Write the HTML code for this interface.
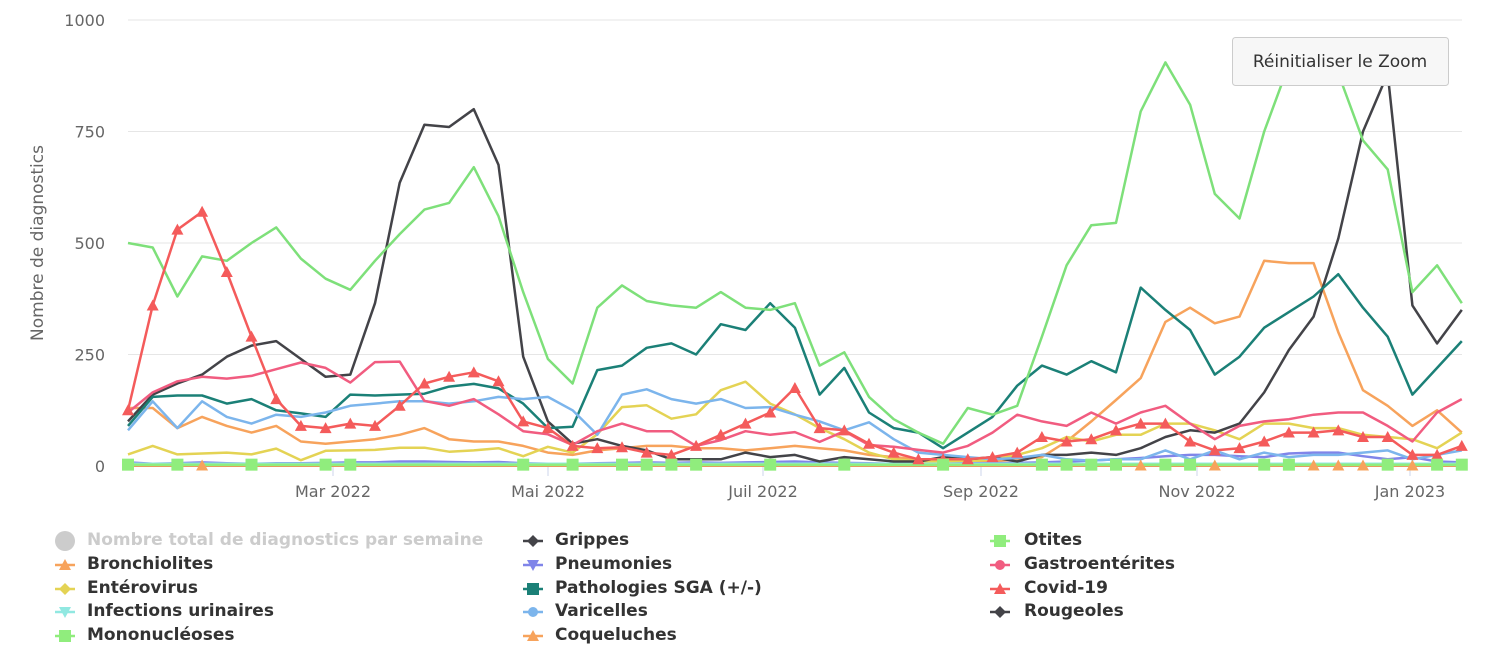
<!DOCTYPE html>
<html><head><meta charset="utf-8">
<style>
body{margin:0;background:#fff;width:1491px;height:667px;overflow:hidden;font-family:"DejaVu Sans",sans-serif}
svg{position:absolute;left:0;top:0}
.leg{position:absolute;font-weight:bold;font-size:17px;color:#333;white-space:nowrap;font-family:"DejaVu Sans",sans-serif}
</style></head><body>
<svg id="c" width="1491" height="667" xmlns="http://www.w3.org/2000/svg"></svg>
<script>
const S=document.getElementById('c');const ns='http://www.w3.org/2000/svg';
const FF='DejaVu Sans, sans-serif';
function el(t,a,txt){const e=document.createElementNS(ns,t);for(const k in a)e.setAttribute(k,a[k]);if(txt!==undefined)e.textContent=txt;S.appendChild(e);return e;}
const X=i=>128+24.7*i, Y=v=>466-v*0.446;
[0,250,500,750,1000].forEach(v=>{el('line',{x1:128,x2:1462,y1:Y(v),y2:Y(v),stroke:'#e6e6e6','stroke-width':1});
el('text',{x:105,y:Y(v)+6,'text-anchor':'end','font-size':16,fill:'#666','font-family':FF},v)});
el('text',{x:43,y:243,transform:'rotate(-90 43 243)','text-anchor':'middle','font-size':17,fill:'#666','font-family':FF},'Nombre de diagnostics');
el('line',{x1:128,x2:1462,y1:466.5,y2:466.5,stroke:'#ccd6eb'});
[[333,'Mar 2022'],[548,'Mai 2022'],[763,'Juil 2022'],[981,'Sep 2022'],[1197,'Nov 2022'],[1410,'Jan 2023']].forEach(([x,t])=>{
el('line',{x1:x,x2:x,y1:466,y2:476,stroke:'#ccd6eb'});el('text',{x:x,y:497,'text-anchor':'middle','font-size':16,fill:'#666','font-family':FF},t)});
const z=n=>Array(55).fill(n);
const series=[
['#f7a35c',[130,130,85,110,90,75,90,55,50,55,60,70,85,60,55,55,45,30,25,35,40,45,45,40,40,35,40,45,40,35,25,20,15,10,10,10,15,20,55,100,148,197,323,355,320,335,460,455,455,300,170,135,90,125,75]],
['#e4d354',[26,45,26,28,30,26,39,13,34,35,36,41,41,32,35,40,22,43,30,71,132,136,106,116,170,189,140,116,85,60,30,15,10,10,10,15,25,40,65,55,70,70,95,95,80,60,95,95,85,85,70,65,60,40,75]],
['#8085e9',[8,5,6,8,6,5,6,6,7,8,8,10,10,9,8,9,6,5,5,6,7,8,7,8,7,8,9,10,8,7,6,5,5,5,6,6,7,8,10,12,15,18,22,25,25,22,20,28,30,30,22,15,20,10,8]],
['#91e8e1',z(5)],
['#434348',[100,160,185,205,245,270,280,240,200,205,365,635,765,760,800,675,245,100,50,60,45,35,15,15,15,30,20,25,10,20,15,10,10,20,15,20,10,25,25,30,25,40,65,80,75,95,165,260,335,510,750,880,360,275,350]],
['#1b8077',[90,155,158,158,140,150,125,118,110,160,158,160,162,178,184,174,140,85,88,215,225,265,275,250,318,305,365,310,160,220,120,85,75,40,75,110,180,225,205,235,210,400,350,305,205,245,310,345,380,430,355,290,160,220,280]],
['#7cb5ec',[80,145,85,145,110,95,115,110,120,135,140,145,145,140,145,155,150,155,125,70,160,172,150,140,150,130,132,115,100,80,98,60,30,25,20,15,18,25,15,12,15,15,35,15,35,15,30,20,25,25,30,35,15,25,35]],
['#f15c80',[120,165,190,200,196,202,217,232,220,187,233,234,146,135,150,116,78,71,47,78,95,78,78,45,58,78,70,76,54,78,47,43,36,30,45,75,115,100,90,120,95,120,135,95,60,90,100,105,115,120,120,90,55,120,150]],
['#434348',z(1)],
['#f7a35c',z(1)],
['#90ed7d',z(3)],
['#7ee07a',[500,490,380,470,460,500,535,465,420,395,460,520,575,590,670,560,390,240,185,355,405,370,360,355,390,355,350,365,225,255,155,105,75,50,130,115,135,290,450,540,545,795,905,810,610,555,750,900,910,880,730,665,390,450,365]],
['#f45b5b',[125,360,530,570,435,290,150,90,85,95,90,135,185,200,210,190,100,85,45,40,42,30,25,45,70,95,120,175,85,80,50,30,15,15,15,20,30,65,55,60,80,95,95,55,35,40,55,75,75,80,65,65,25,25,45]]
];
series.forEach(([c,d])=>el('polyline',{points:d.map((v,i)=>X(i).toFixed(1)+','+Y(v).toFixed(1)).join(' '),fill:'none',stroke:c,'stroke-width':2.5,'stroke-linejoin':'round'}));
const tri=(x,y,c)=>el('path',{d:`M${x} ${y-6}L${x+6} ${y+5}L${x-6} ${y+5}Z`,fill:c});
series[12][1].forEach((v,i)=>tri(X(i),Y(v),'#f45b5b'));
[3,41,44,48,49,50,52].forEach(i=>tri(X(i),Y(1),'#f7a35c'));
[0,2,5,8,9,16,18,20,21,22,23,26,29,33,37,38,39,40,42,43,46,47,51,53,54].forEach(i=>el('rect',{x:X(i)-6,y:Y(3)-6,width:12,height:12,fill:'#90ed7d'}));
function sym(x,y,c,t){el('line',{x1:x-10,x2:x+10,y1:y,y2:y,stroke:c,'stroke-width':2.5});
 if(t=='c')el('circle',{cx:x,cy:y,r:5,fill:c});
 if(t=='d')el('path',{d:`M${x} ${y-6}L${x+6} ${y}L${x} ${y+6}L${x-6} ${y}Z`,fill:c});
 if(t=='s')el('rect',{x:x-6,y:y-6,width:12,height:12,fill:c});
 if(t=='t')tri(x,y,c);
 if(t=='v')el('path',{d:`M${x} ${y+6}L${x+6} ${y-5}L${x-6} ${y-5}Z`,fill:c});}
el('circle',{cx:65,cy:541,r:10,fill:'#ccc'});
const L=[[65,565,'#f7a35c','t'],[65,589,'#e4d354','d'],[65,612,'#91e8e1','v'],[65,636,'#90ed7d','s'],
[533,541,'#434348','d'],[533,565,'#8085e9','v'],[533,589,'#1b8077','s'],[533,612,'#7cb5ec','c'],[533,636,'#f7a35c','t'],
[1000,541,'#90ed7d','s'],[1000,565,'#f15c80','c'],[1000,589,'#f45b5b','t'],[1000,612,'#434348','d']];
L.forEach(a=>sym(...a));
el('rect',{x:1232.5,y:37.5,width:216,height:48,rx:3,fill:'#f7f7f7',stroke:'#cccccc'});
el('text',{x:1340,y:67,'text-anchor':'middle','font-size':17,fill:'#333','font-family':FF},'Réinitialiser le Zoom');
</script>
<div class="leg" style="left:87px;top:530px;color:#ccc">Nombre total de diagnostics par semaine</div>
<div class="leg" style="left:87px;top:554px">Bronchiolites</div>
<div class="leg" style="left:87px;top:578px">Entérovirus</div>
<div class="leg" style="left:87px;top:601px">Infections urinaires</div>
<div class="leg" style="left:87px;top:625px">Mononucléoses</div>
<div class="leg" style="left:555px;top:530px">Grippes</div>
<div class="leg" style="left:555px;top:554px">Pneumonies</div>
<div class="leg" style="left:555px;top:578px">Pathologies SGA (+/-)</div>
<div class="leg" style="left:555px;top:601px">Varicelles</div>
<div class="leg" style="left:555px;top:625px">Coqueluches</div>
<div class="leg" style="left:1024px;top:530px">Otites</div>
<div class="leg" style="left:1024px;top:554px">Gastroentérites</div>
<div class="leg" style="left:1024px;top:578px">Covid-19</div>
<div class="leg" style="left:1024px;top:601px">Rougeoles</div>
</body></html>
